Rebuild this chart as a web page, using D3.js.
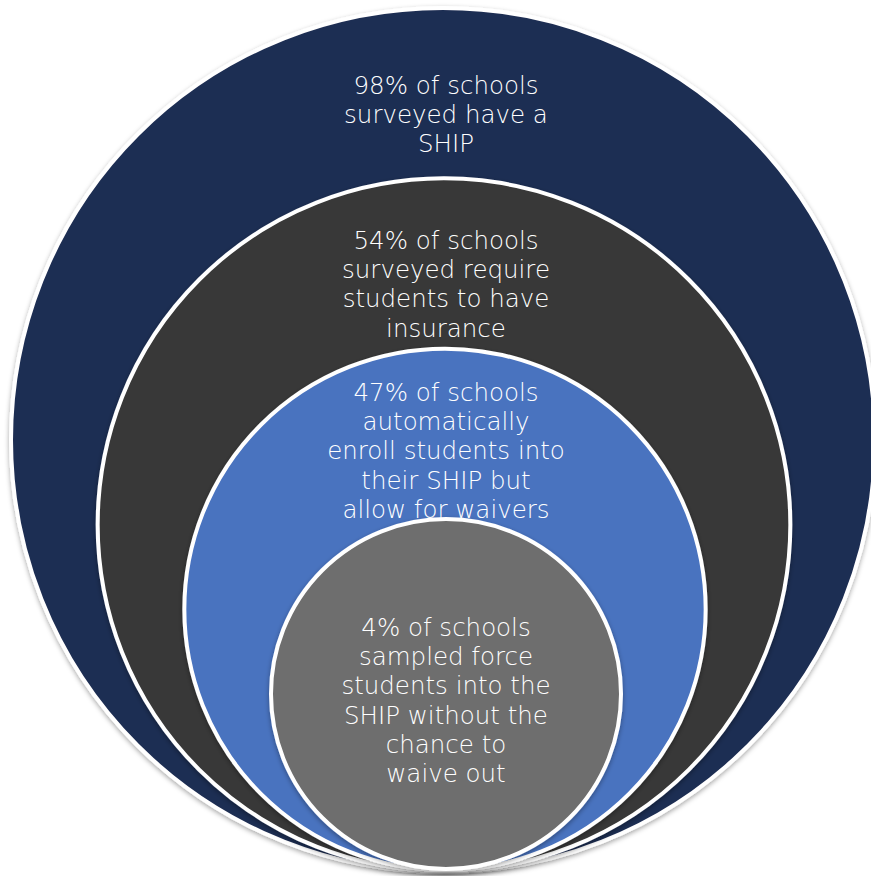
<!DOCTYPE html>
<html>
<head>
<meta charset="utf-8">
<script src="https://cdn.jsdelivr.net/npm/d3@7"></script>
<style>
  html, body { margin: 0; padding: 0; background: #ffffff; }
  svg { display: block; }
</style>
</head>
<body>
<script>
// Nested circles: each level is a subset of the one around it.
const levels = ["have", "require", "auto", "force"];
const percents = [98, 54, 47, 4];
const fills = ["#1f2e53", "#383838", "#4a73bf", "#6e6e6e"];
const labelLines = [
  ["98% of schools", "surveyed have a", "SHIP"],
  ["54% of schools", "surveyed require", "students to have", "insurance"],
  ["47% of schools", "automatically", "enroll students into", "their SHIP but", "allow for waivers"],
  ["4% of schools", "sampled force", "students into the", "SHIP without the", "chance to", "waive out"]
];

const width = 871, height = 876;
const svg = d3.select("body").append("svg")
  .attr("width", width).attr("height", height);

const defs = svg.append("defs");
const shadow = defs.append("filter").attr("id", "shadow")
  .attr("x", "-10%").attr("y", "-10%").attr("width", "120%").attr("height", "120%");
shadow.append("feDropShadow")
  .attr("dx", 0).attr("dy", 2).attr("stdDeviation", 2.5)
  .attr("flood-color", "#000").attr("flood-opacity", 0.35);

// Radius shrinks steadily from the outer ring inward; all circles share a bottom tangent.
const rScale = d3.scaleLinear().domain([0, levels.length - 1]).range([432, 175]);
const cx = d3.scaleLinear().domain([0, levels.length - 1]).range([443, 446]);
const bottom = d3.scaleLinear().domain([0, levels.length - 1]).range([872, 869]);

// Vertical position of each label block (first line baseline)
const labelTop = d3.scaleOrdinal().domain(levels).range([94, 249, 401, 636]);
const lineStep = 29.2;

const g = svg.selectAll("g.level")
  .data(levels.map((k, i) => ({ key: k, i, pct: percents[i], fill: fills[i], lines: labelLines[i] })))
  .join("g").attr("class", "level");

g.append("circle")
  .attr("cx", d => cx(d.i))
  .attr("cy", d => bottom(d.i) - rScale(d.i))
  .attr("r", d => rScale(d.i))
  .attr("fill", d => d.fill)
  .attr("stroke", "#ffffff")
  .attr("stroke-width", 4)
  .attr("filter", "url(#shadow)");

g.append("text")
  .attr("text-anchor", "middle")
  .attr("fill", "#ffffff")
  .attr("font-family", "'DejaVu Sans', sans-serif")
  .attr("font-weight", 300)
  .attr("font-size", 24.5)
  .selectAll("tspan")
  .data(d => d.lines.map((t, j) => ({ t, j, key: d.key, i: d.i })))
  .join("tspan")
  .attr("x", 446)
  .attr("y", d => labelTop(d.key) + d.j * lineStep)
  .text(d => d.t);
</script>
</body>
</html>
